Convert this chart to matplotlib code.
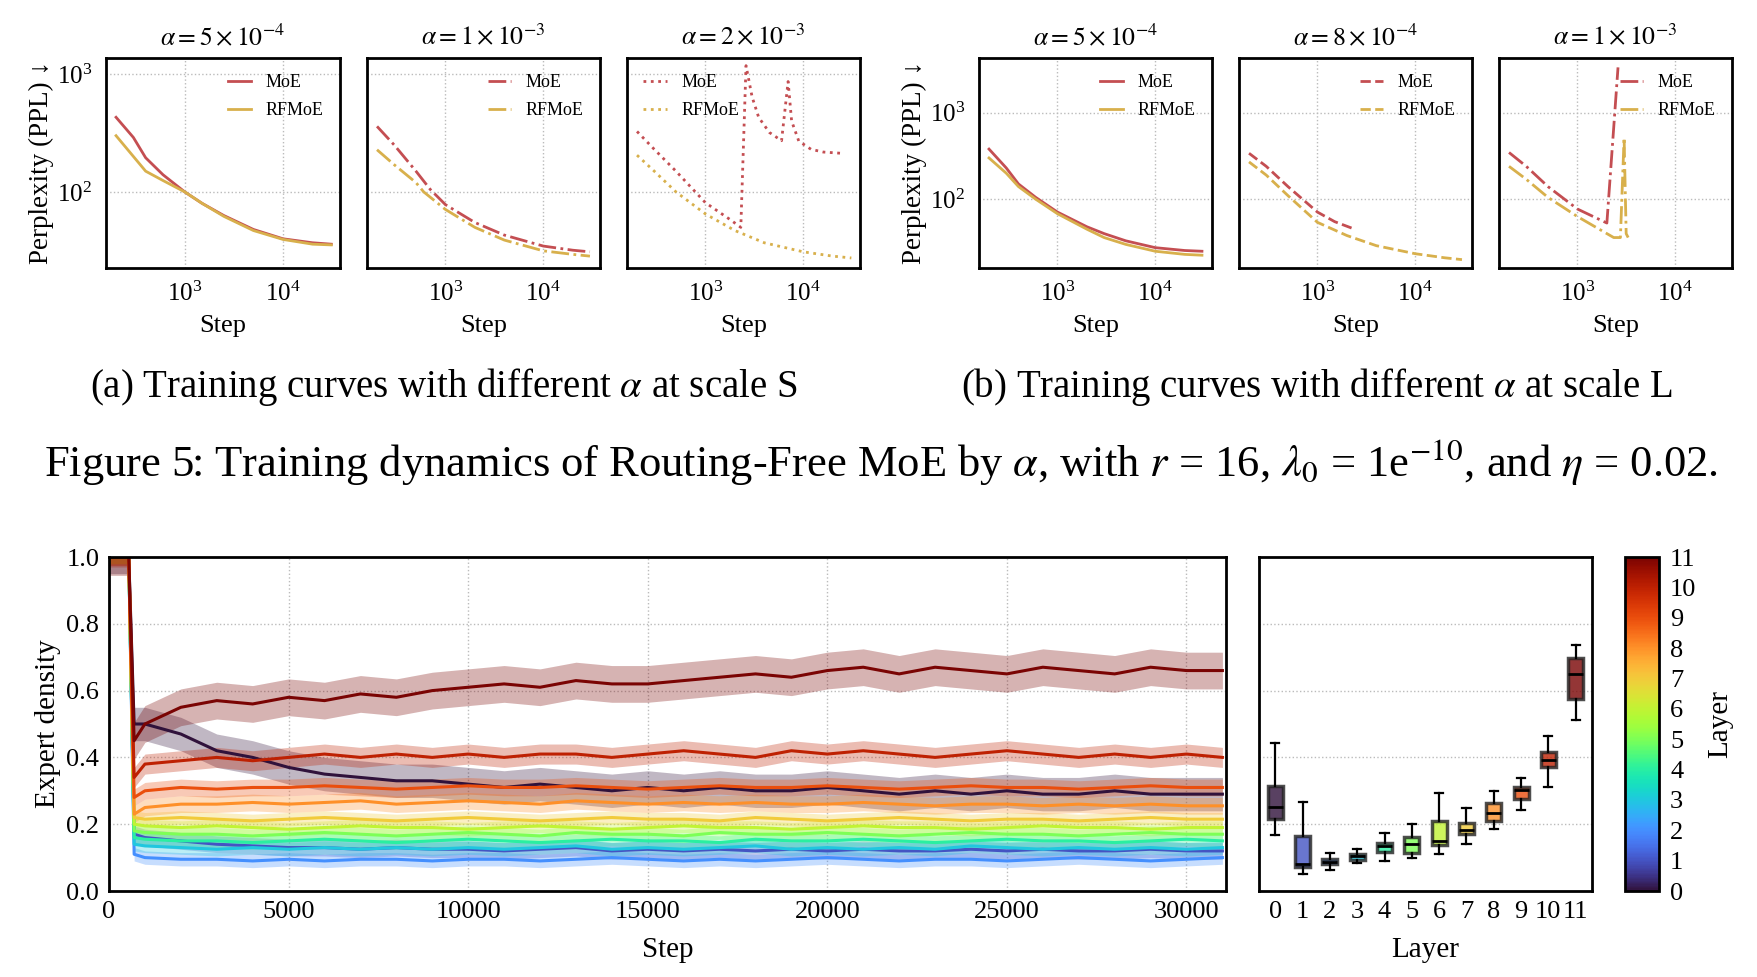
import numpy as np
import matplotlib
matplotlib.use('Agg')
import matplotlib.pyplot as plt
from matplotlib.cm import ScalarMappable
from matplotlib.colors import Normalize

plt.rcParams['font.family'] = ['Liberation Serif', 'DejaVu Serif']
plt.rcParams['mathtext.fontset'] = 'stix'

MOE_C = '#c44e52'
RF_C = '#d8b04c'

# ---- top row: perplexity curves (step, ppl) ----
# (a) scale S
a1_moe_s = [200, 300, 400, 600, 1000, 1500, 2500, 5000, 10000, 20000, 31000]
a1_moe_p = [430, 290, 195, 140, 100, 80, 63, 48, 40, 37, 36]
a1_rf_s = [200, 400, 600, 1000, 1500, 2500, 5000, 10000, 20000, 31000]
a1_rf_p = [300, 150, 125, 100, 80, 62, 47, 39.5, 36, 35.5]

a2_moe_s = [200, 300, 500, 700, 1000, 2000, 4000, 10000, 20000, 30000]
a2_moe_p = [360, 250, 150, 105, 78, 55, 43, 34.7, 32, 31]
a2_rf_s = [200, 300, 500, 600, 1000, 2000, 4000, 10000, 20000, 30000]
a2_rf_p = [228, 170, 120, 100, 71, 50, 39, 31.6, 29.5, 28.5]

a3_moe_s = [200, 300, 500, 1000, 1800, 2300, 2600, 3000, 3500, 4500, 6000, 7000,
            7600, 9000, 12000, 16000, 24000]
a3_moe_p = [326, 230, 150, 81, 58, 50, 1180, 640, 430, 320, 272, 865,
            400, 270, 230, 218, 213]
a3_rf_s = [200, 300, 500, 1000, 2000, 4000, 10000, 20000, 31000]
a3_rf_p = [205, 150, 100, 65, 47, 37, 31, 28.5, 27.5]

# (b) scale L
b1_moe_s = [200, 300, 400, 600, 1000, 2000, 3000, 5000, 10000, 20000, 30000]
b1_moe_p = [380, 230, 150, 105, 71, 48, 40, 33, 27.5, 25.5, 25]
b1_rf_s = [200, 300, 400, 600, 1000, 2000, 3000, 5000, 10000, 20000, 30000]
b1_rf_p = [300, 200, 140, 100, 68, 45, 36, 30, 25, 23, 22.5]

b2_moe_s = [200, 300, 500, 1000, 1500, 2400]
b2_moe_p = [340, 240, 140, 71, 55, 45]
b2_rf_s = [200, 300, 500, 1000, 2000, 4000, 10000, 20000, 30000]
b2_rf_p = [270, 190, 110, 54, 38, 29, 23.4, 21, 20]

b3_moe_s = [200, 300, 500, 1000, 2000, 2600]
b3_moe_p = [347, 240, 140, 77, 53, 3350]
b3_rf_s = [200, 300, 500, 1000, 2000, 2350, 2750, 3000, 3150, 3300]
b3_rf_p = [240, 170, 105, 63, 40, 36, 36, 515, 40, 36]

panel_titles = [r'$\alpha=5\times10^{-4}$', r'$\alpha=1\times10^{-3}$', r'$\alpha=2\times10^{-3}$',
                r'$\alpha=5\times10^{-4}$', r'$\alpha=8\times10^{-4}$', r'$\alpha=1\times10^{-3}$']

# ---- bottom: expert density per layer over training ----
steps = [0, 550, 700] + list(range(1000, 31001, 1000))
density = [
    # layer 0
    [1.0, 1.0, 0.50,
     0.50, 0.47, 0.42, 0.40, 0.37, 0.35, 0.34, 0.33, 0.33, 0.32,
     0.31, 0.32, 0.31, 0.30, 0.31, 0.30, 0.31, 0.30, 0.30, 0.31,
     0.30, 0.29, 0.30, 0.29, 0.30, 0.29, 0.29, 0.30, 0.29, 0.29,
     0.29],
    # layer 1
    [1.0, 1.0, 0.17,
     0.16, 0.15, 0.14, 0.135, 0.13, 0.13, 0.125, 0.13, 0.125, 0.125,
     0.12, 0.125, 0.13, 0.12, 0.125, 0.12, 0.125, 0.12, 0.125, 0.12,
     0.125, 0.12, 0.12, 0.125, 0.12, 0.125, 0.12, 0.12, 0.125, 0.12,
     0.12],
    # layer 2
    [1.0, 1.0, 0.11,
     0.10, 0.095, 0.095, 0.09, 0.095, 0.09, 0.095, 0.095, 0.09, 0.095,
     0.095, 0.09, 0.095, 0.10, 0.095, 0.09, 0.095, 0.09, 0.095, 0.10,
     0.095, 0.09, 0.095, 0.095, 0.09, 0.095, 0.10, 0.095, 0.09, 0.095,
     0.10],
    # layer 3
    [1.0, 1.0, 0.14,
     0.135, 0.13, 0.125, 0.13, 0.125, 0.13, 0.125, 0.13, 0.125, 0.13,
     0.125, 0.13, 0.135, 0.125, 0.13, 0.125, 0.13, 0.135, 0.125, 0.13,
     0.125, 0.13, 0.125, 0.135, 0.13, 0.125, 0.13, 0.125, 0.13, 0.125,
     0.13],
    # layer 4
    [1.0, 1.0, 0.16,
     0.155, 0.15, 0.15, 0.145, 0.15, 0.155, 0.15, 0.145, 0.15, 0.155,
     0.15, 0.145, 0.15, 0.155, 0.15, 0.15, 0.145, 0.155, 0.15, 0.15,
     0.155, 0.15, 0.145, 0.15, 0.155, 0.15, 0.15, 0.145, 0.15, 0.155,
     0.15],
    # layer 5
    [1.0, 1.0, 0.18,
     0.175, 0.17, 0.17, 0.165, 0.17, 0.175, 0.17, 0.165, 0.17, 0.175,
     0.17, 0.165, 0.175, 0.17, 0.17, 0.165, 0.175, 0.17, 0.17, 0.175,
     0.17, 0.165, 0.17, 0.175, 0.17, 0.17, 0.165, 0.17, 0.175, 0.17,
     0.17],
    # layer 6
    [1.0, 1.0, 0.20,
     0.195, 0.19, 0.195, 0.19, 0.185, 0.19, 0.195, 0.19, 0.19, 0.185,
     0.19, 0.195, 0.19, 0.185, 0.19, 0.195, 0.19, 0.19, 0.185, 0.19,
     0.195, 0.19, 0.19, 0.185, 0.19, 0.195, 0.19, 0.19, 0.185, 0.19,
     0.19],
    # layer 7
    [1.0, 1.0, 0.22,
     0.215, 0.22, 0.215, 0.21, 0.215, 0.22, 0.215, 0.21, 0.215, 0.22,
     0.215, 0.21, 0.215, 0.22, 0.215, 0.215, 0.21, 0.22, 0.215, 0.21,
     0.215, 0.22, 0.215, 0.21, 0.215, 0.215, 0.21, 0.215, 0.22, 0.215,
     0.215],
    # layer 8
    [1.0, 1.0, 0.23,
     0.25, 0.26, 0.26, 0.265, 0.26, 0.265, 0.27, 0.26, 0.265, 0.27,
     0.265, 0.26, 0.27, 0.265, 0.26, 0.265, 0.26, 0.265, 0.26, 0.26,
     0.265, 0.26, 0.255, 0.26, 0.26, 0.255, 0.26, 0.255, 0.26, 0.255,
     0.255],
    # layer 9
    [1.0, 1.0, 0.28,
     0.30, 0.31, 0.305, 0.31, 0.31, 0.315, 0.31, 0.305, 0.31, 0.315,
     0.31, 0.31, 0.315, 0.31, 0.305, 0.31, 0.315, 0.31, 0.31, 0.315,
     0.31, 0.305, 0.31, 0.315, 0.31, 0.31, 0.305, 0.31, 0.315, 0.31,
     0.31],
    # layer 10
    [1.0, 1.0, 0.34,
     0.38, 0.39, 0.40, 0.39, 0.40, 0.41, 0.40, 0.41, 0.40, 0.41,
     0.40, 0.41, 0.41, 0.40, 0.41, 0.42, 0.41, 0.40, 0.42, 0.41,
     0.42, 0.41, 0.40, 0.41, 0.42, 0.41, 0.40, 0.41, 0.40, 0.41,
     0.40],
    # layer 11
    [1.0, 1.0, 0.45,
     0.50, 0.55, 0.57, 0.56, 0.58, 0.57, 0.59, 0.58, 0.60, 0.61,
     0.62, 0.61, 0.63, 0.62, 0.62, 0.63, 0.64, 0.65, 0.64, 0.66,
     0.67, 0.65, 0.67, 0.66, 0.65, 0.67, 0.66, 0.65, 0.67, 0.66,
     0.66],
]
band_halfwidth = [0.05, 0.025, 0.02, 0.02, 0.02, 0.02, 0.02, 0.02, 0.025, 0.025, 0.03, 0.055]

# ---- box plot per layer: whisker low, q1, median, q3, whisker high ----
layers = list(range(12))
box_whislo = [0.167, 0.052, 0.062, 0.084, 0.089, 0.099, 0.112, 0.141, 0.185, 0.242, 0.312, 0.513]
box_q1 = [0.217, 0.072, 0.080, 0.094, 0.116, 0.115, 0.137, 0.172, 0.210, 0.274, 0.372, 0.574]
box_med = [0.252, 0.080, 0.087, 0.104, 0.134, 0.140, 0.149, 0.182, 0.234, 0.302, 0.392, 0.649]
box_q3 = [0.315, 0.165, 0.097, 0.112, 0.144, 0.162, 0.210, 0.205, 0.264, 0.312, 0.417, 0.698]
box_whishi = [0.443, 0.265, 0.115, 0.125, 0.174, 0.202, 0.292, 0.249, 0.300, 0.339, 0.465, 0.738]

W, H = 1758, 977
fig = plt.figure(figsize=(W / 100, H / 100), dpi=100)
fig.patch.set_facecolor('white')


def px_axes(x0, y0, x1, y1):
    return fig.add_axes([x0 / W, 1 - y1 / H, (x1 - x0) / W, (y1 - y0) / H])


def style_frame(ax):
    for sp in ax.spines.values():
        sp.set_linewidth(2)
        sp.set_color('black')
    ax.grid(True, ls=':', color='#bbbbbb', lw=1)
    ax.set_axisbelow(True)


panels = [
    (106, 340, (a1_moe_s, a1_moe_p), (a1_rf_s, a1_rf_p), '-', (22.6, 1370), 'upper right', True),
    (367, 600, (a2_moe_s, a2_moe_p), (a2_rf_s, a2_rf_p), '-.', (22.6, 1370), 'upper right', False),
    (627, 860, (a3_moe_s, a3_moe_p), (a3_rf_s, a3_rf_p), ':', (22.6, 1370), 'upper left', False),
    (979, 1212, (b1_moe_s, b1_moe_p), (b1_rf_s, b1_rf_p), '-', (16, 4300), 'upper right', True),
    (1239, 1472, (b2_moe_s, b2_moe_p), (b2_rf_s, b2_rf_p), '--', (16, 4300), 'upper right', False),
    (1499, 1732, (b3_moe_s, b3_moe_p), (b3_rf_s, b3_rf_p), '-.', (16, 4300), 'upper right', False),
]

for k, (x0, x1, moe, rf, ls, ylim, loc, first) in enumerate(panels):
    ax = px_axes(x0, 58, x1, 268)
    ax.plot(moe[0], moe[1], color=MOE_C, ls=ls, lw=2, label='MoE')
    ax.plot(rf[0], rf[1], color=RF_C, ls=ls, lw=2, label='RFMoE')
    ax.set_xscale('log')
    ax.set_yscale('log')
    ax.set_xlim(158, 38000)
    ax.set_ylim(*ylim)
    ax.set_xticks([1e3, 1e4])
    ax.set_yticks([1e2, 1e3])
    ax.minorticks_off()
    ax.tick_params(length=0, labelsize=18, pad=10)
    if not first:
        ax.set_yticklabels([])
    else:
        ax.set_ylabel('Perplexity (PPL) ↓', fontsize=19.5, labelpad=2)
    style_frame(ax)
    ax.set_title(panel_titles[k], fontsize=18.5, pad=9)
    ax.set_xlabel('Step', fontsize=19, labelpad=6)
    ax.legend(loc=loc, frameon=False, fontsize=13, handlelength=1.3,
              handletextpad=0.8, labelspacing=0.6)

fig.text(444 / W, 1 - 387 / H, r'(a) Training curves with different $\alpha$ at scale S',
         ha='center', va='center', fontsize=28)
fig.text(1317 / W, 1 - 387 / H, r'(b) Training curves with different $\alpha$ at scale L',
         ha='center', va='center', fontsize=28)
fig.text(881 / W, 1 - 462 / H,
         r'Figure 5: Training dynamics of Routing-Free MoE by $\alpha$, with $r$ = 16, '
         r'$\lambda_0$ = 1e$^{-10}$, and $\eta$ = 0.02.',
         ha='center', va='center', fontsize=32)

# bottom-left: density over steps
cmap = plt.get_cmap('turbo')
axm = px_axes(109, 557, 1226, 891)
for i, vals in enumerate(density):
    c = cmap(i / 11)
    v = np.array(vals)
    axm.fill_between(steps, v - band_halfwidth[i], v + band_halfwidth[i],
                     color=c, alpha=0.3, lw=0)
    axm.plot(steps, v, color=c, lw=2.2)
axm.set_xlim(0, 31100)
axm.set_ylim(0, 1.0)
axm.set_xticks([0, 5000, 10000, 15000, 20000, 25000, 30000])
axm.set_yticks([0.0, 0.2, 0.4, 0.6, 0.8, 1.0])
axm.set_yticklabels(['0.0', '0.2', '0.4', '0.6', '0.8', '1.0'])
axm.tick_params(length=0, labelsize=19, pad=7)
style_frame(axm)
axm.set_xlabel('Step', fontsize=21, labelpad=10)
axm.set_ylabel('Expert density', fontsize=21)

# bottom-middle: box plot
axb = px_axes(1259, 557, 1592, 891)
stats = [dict(whislo=box_whislo[i], q1=box_q1[i], med=box_med[i], q3=box_q3[i],
              whishi=box_whishi[i], label=str(i)) for i in layers]
bp = axb.bxp(stats, positions=layers, widths=0.55, showfliers=False, patch_artist=True,
             boxprops=dict(edgecolor='#222222', linewidth=2.5),
             medianprops=dict(color='black', linewidth=2),
             whiskerprops=dict(color='black', linewidth=1.6),
             capprops=dict(color='black', linewidth=1.6), capwidths=0.3)
for i, patch in enumerate(bp['boxes']):
    patch.set_facecolor(cmap(i / 11))
    patch.set_alpha(0.8)
axb.set_ylim(0, 1.0)
axb.set_xlim(-0.6, 11.6)
axb.set_yticks([0.2, 0.4, 0.6, 0.8])
axb.set_yticklabels([])
axb.tick_params(length=0, labelsize=19, pad=7)
style_frame(axb)
axb.grid(False, axis='x')
axb.set_xlabel('Layer', fontsize=21, labelpad=10)

# colorbar
cax = px_axes(1625, 557, 1659, 891)
cb = fig.colorbar(ScalarMappable(norm=Normalize(0, 11), cmap=cmap), cax=cax, ticks=layers)
cb.outline.set_linewidth(2)
cb.ax.tick_params(length=0, labelsize=19, pad=8)
cb.set_label('Layer', fontsize=21, labelpad=8)

fig.savefig('out.png', dpi=100, facecolor='white')
